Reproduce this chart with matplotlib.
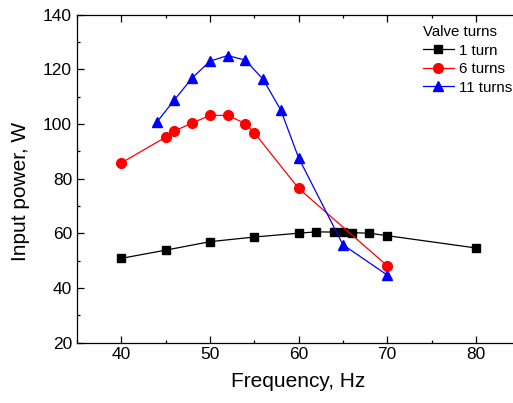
import matplotlib
matplotlib.use("Agg")
from matplotlib import pyplot as plt
from matplotlib.ticker import MultipleLocator

plt.rcParams['font.family'] = ['Liberation Sans', 'DejaVu Sans']

freq_1 = [40, 45, 50, 55, 60, 62, 64, 65, 66, 68, 70, 80]
power_1 = [50.8, 53.8, 56.9, 58.6, 60.0, 60.5, 60.4, 60.3, 60.2, 60.0, 59.1, 54.6]

freq_6 = [40, 45, 46, 48, 50, 52, 54, 55, 60, 70]
power_6 = [85.7, 95.1, 97.4, 100.3, 103.1, 103.1, 100.1, 96.8, 76.4, 48.1]

freq_11 = [44, 46, 48, 50, 52, 54, 56, 58, 60, 65, 70]
power_11 = [100.6, 108.8, 116.8, 122.9, 125.0, 123.3, 116.3, 105.0, 87.6, 55.8, 44.7]

fig = plt.figure(figsize=(5.13, 4.03), dpi=100)
ax = fig.add_axes([0.150, 0.150, 0.864, 0.814])

ax.plot(freq_1, power_1, color='black', marker='s', markersize=6, lw=0.9, label='1 turn')
ax.plot(freq_6, power_6, color='red', marker='o', markersize=7, lw=0.9, label='6 turns')
ax.plot(freq_11, power_11, color='blue', marker='^', markersize=7.5, lw=0.9, label='11 turns')

ax.set_xlim(35, 85)
ax.set_ylim(20, 140)
ax.xaxis.set_major_locator(MultipleLocator(10))
ax.xaxis.set_minor_locator(MultipleLocator(5))
ax.yaxis.set_major_locator(MultipleLocator(20))
ax.yaxis.set_minor_locator(MultipleLocator(10))
ax.tick_params(which='both', direction='in', top=True, right=True, labelsize=12.5, width=0.9)
ax.tick_params(which='major', length=5)
ax.tick_params(which='minor', length=2.5)
for s in ax.spines.values():
    s.set_linewidth(0.9)

ax.set_xlabel('Frequency, Hz', fontsize=15, labelpad=7)
ax.set_ylabel('Input power, W', fontsize=15)
ax.yaxis.set_label_coords(-0.105, 0.46)

leg = ax.legend(title='Valve turns', loc='upper left', bbox_to_anchor=(0.78, 0.968),
                frameon=False, fontsize=10.8, title_fontsize=10.8, handlelength=2.1,
                handletextpad=0.3, labelspacing=0.3, borderaxespad=0, borderpad=0)
leg._legend_box.align = 'left'

fig.savefig('out.png', dpi=100)
